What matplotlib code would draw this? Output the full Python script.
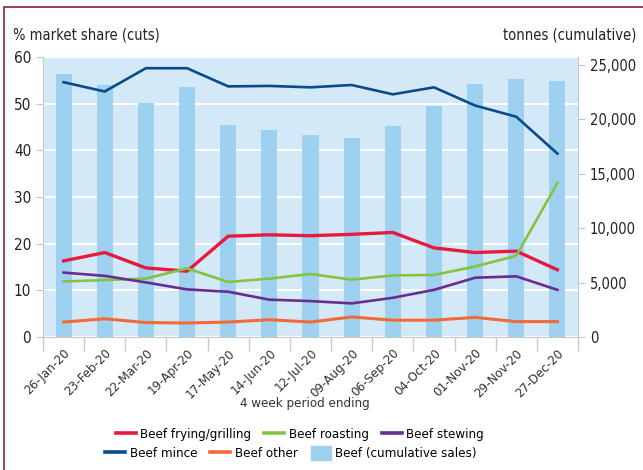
import matplotlib
matplotlib.use("Agg")

import matplotlib.pyplot as plt
import numpy as np
from matplotlib.patches import Rectangle, Patch
from matplotlib.lines import Line2D

plt.rcParams['font.family'] = ['DejaVu Sans']
plt.rcParams['font.stretch'] = 'condensed'

periodos = ['26-Jan-20', '23-Feb-20', '22-Mar-20', '19-Apr-20', '17-May-20', '14-Jun-20',
            '12-Jul-20', '09-Aug-20', '06-Sep-20', '04-Oct-20', '01-Nov-20', '29-Nov-20', '27-Dec-20']

ventas_acumuladas = [24170, 23140, 21510, 22980, 19500, 19040, 18580, 18300, 19400, 21240, 23260, 23720, 23530]

frying = [16.3, 18.1, 14.8, 14.1, 21.6, 21.9, 21.7, 22.0, 22.4, 19.1, 18.1, 18.4, 14.4]
roasting = [11.9, 12.2, 12.5, 14.7, 11.8, 12.5, 13.5, 12.3, 13.2, 13.3, 15.1, 17.4, 33.0]
stewing = [13.8, 13.1, 11.7, 10.2, 9.7, 8.0, 7.7, 7.2, 8.4, 10.1, 12.7, 13.0, 10.1]
mince = [54.6, 52.6, 57.6, 57.6, 53.7, 53.8, 53.5, 54.0, 52.0, 53.5, 49.6, 47.2, 39.3]
other = [3.2, 3.9, 3.1, 3.0, 3.2, 3.7, 3.2, 4.3, 3.6, 3.6, 4.2, 3.3, 3.3]

colores = {
    'frying': '#e8193f',
    'roasting': '#84c341',
    'stewing': '#6a2c91',
    'mince': '#0b4a8b',
    'other': '#f26a36',
    'barras': '#9dd1ef',
    'fondo': '#d3e9f7',
}

fig = plt.figure(figsize=(6.43, 4.70), dpi=100)
ax = fig.add_axes([43 / 643, 1 - 337 / 470, (578 - 43) / 643, (337 - 57) / 470])
ax2 = ax.twinx()

x = np.arange(len(periodos))

ax.set_facecolor(colores['fondo'])
ax.set_zorder(ax2.get_zorder() - 1)
ax2.patch.set_visible(False)

# barras en el eje de la derecha, pero detras de las lineas
ax.bar(x, np.array(ventas_acumuladas) * 60 / 25730, width=0.39, color=colores['barras'], zorder=2)
ax2.set_ylim(0, 25730)

ax.plot(x, frying, color=colores['frying'], lw=2.4, zorder=4)
ax.plot(x, roasting, color=colores['roasting'], lw=1.9, zorder=4)
ax.plot(x, stewing, color=colores['stewing'], lw=1.9, zorder=4)
ax.plot(x, mince, color=colores['mince'], lw=1.9, zorder=4)
ax.plot(x, other, color=colores['other'], lw=2.2, zorder=4)

ax.set_ylim(0, 60)
ax.set_xlim(-0.5, len(periodos) - 0.5)
ax.set_yticks(range(0, 61, 10))
ax.grid(axis='y', color='white', lw=1.5, zorder=1)
ax.set_axisbelow(True)

ax2.set_yticks(range(0, 25001, 5000))
ax2.set_yticklabels(['0', '5,000', '10,000', '15,000', '20,000', '25,000'])

ax.set_xticks(x)
ax.set_xticklabels(periodos, rotation=45, ha='right', rotation_mode='anchor', fontsize=9.5, color='#333333')
ax.set_xticks(np.arange(-0.5, len(periodos), 1), minor=True)
ax.tick_params(axis='x', which='major', length=0, pad=7)
ax.tick_params(axis='x', which='minor', length=10, color='#c8c8c8', width=1)
ax.tick_params(axis='y', length=5, color='#c8c8c8', labelsize=11, labelcolor='#222222')
ax2.tick_params(axis='y', length=5, color='#c8c8c8', labelsize=10.5, labelcolor='#222222')

for a in (ax, ax2):
    a.spines['top'].set_visible(False)
    a.spines['right'].set_visible(False)
    a.spines['left'].set_visible(False)
    a.spines['bottom'].set_color('#c8c8c8')
ax.spines['left'].set_visible(True)
ax.spines['left'].set_color('#c8c8c8')
ax2.spines['right'].set_visible(True)
ax2.spines['right'].set_color('#c8c8c8')

fig.text(13 / 643, 1 - 35 / 470, '% market share (cuts)', fontsize=10.5, color='#222222', va='center', ha='left')
fig.text(636 / 643, 1 - 35 / 470, 'tonnes (cumulative)', fontsize=10.5, color='#222222', va='center', ha='right')
fig.text(305 / 643, 1 - 403 / 470, '4 week period ending', fontsize=9.5, color='#333333', va='center', ha='center')

# leyenda en dos filas, cada una centrada por separado
fila1 = [Line2D([], [], color=colores['frying'], lw=2.6),
         Line2D([], [], color=colores['roasting'], lw=2.6),
         Line2D([], [], color=colores['stewing'], lw=2.6)]
fila2 = [Line2D([], [], color=colores['mince'], lw=2.6),
         Line2D([], [], color=colores['other'], lw=2.6),
         Patch(color=colores['barras'])]
opciones = dict(ncol=3, loc='center', frameon=False, fontsize=9.5, handlelength=1.5,
                handletextpad=0.35, columnspacing=1.0, borderpad=0, handleheight=1.3)
fig.legend(fila1, ['Beef frying/grilling', 'Beef roasting', 'Beef stewing'],
           bbox_to_anchor=(300 / 643, 1 - 434 / 470), **opciones)
fig.legend(fila2, ['Beef mince', 'Beef other', 'Beef (cumulative sales)'],
           bbox_to_anchor=(291 / 643, 1 - 453 / 470), **opciones)

# marco granate
fig.patches.append(Rectangle((4 / 643, -0.1), 1.2, 1 - 7 / 470 + 0.1, transform=fig.transFigure,
                             fill=False, edgecolor='#8c1d40', lw=1.2))

plt.savefig("out.png", dpi=100)
